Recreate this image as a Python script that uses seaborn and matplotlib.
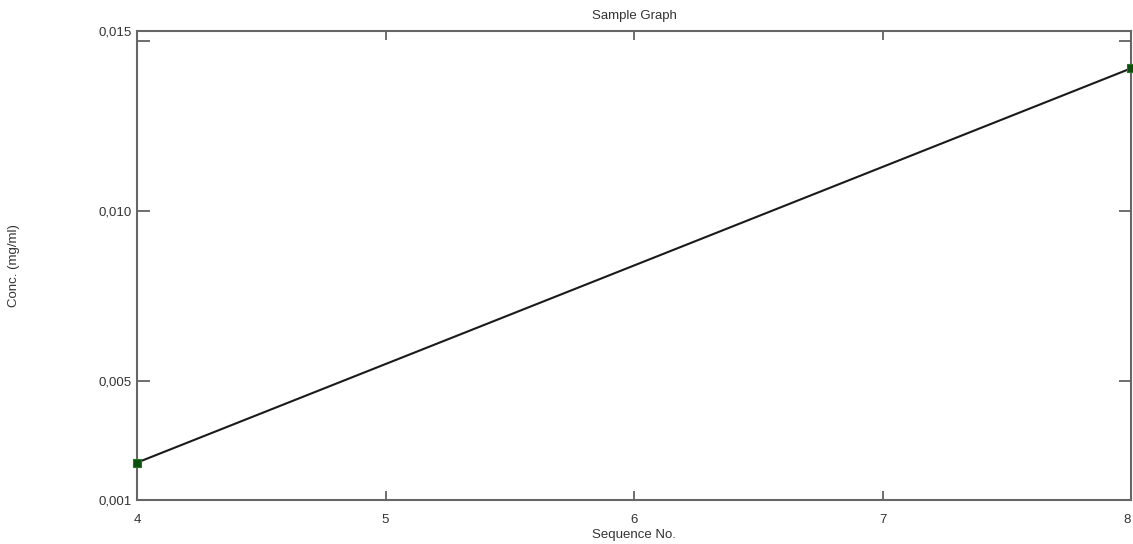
import matplotlib
matplotlib.use("Agg")
import matplotlib.pyplot as plt
import seaborn as sns
import pandas as pd

# Data
seq_no = [4, 8]
conc = [0.0026, 0.0142]

# Axis range and labels as shown
x_ticks = [4, 5, 6, 7, 8]
y_limits = [0.0015, 0.0153]
y_tick_values = [0.0015, 0.005, 0.010, 0.0153]
y_tick_labels = ["0,001", "0,005", "0,010", "0,015"]
y_minor_ticks = [0.015]

title = "Sample Graph"
x_label = "Sequence No."
y_label = "Conc. (mg/ml)"

df = pd.DataFrame({"seq": seq_no, "conc": conc})

sns.set_theme(style="white")
plt.rcParams["font.family"] = ["Liberation Sans", "DejaVu Sans"]

fig = plt.figure(figsize=(11.33, 5.44), dpi=100)
ax = fig.add_axes([137 / 1133, 1 - 500 / 544, (1131 - 137) / 1133, (500 - 31) / 544])

sns.lineplot(data=df, x="seq", y="conc", ax=ax, color="#1a1a1a", linewidth=1.5)
sns.scatterplot(data=df, x="seq", y="conc", ax=ax, marker="s", s=26,
                color="#0f4d0f", edgecolor="#1f7a1f", linewidth=0.8, zorder=5, clip_on=False)

ax.set_xlim(4, 8)
ax.set_ylim(*y_limits)
ax.set_xticks(x_ticks)
ax.set_xticklabels([str(v) for v in x_ticks])
ax.set_yticks(y_tick_values)
ax.set_yticklabels(y_tick_labels)
ax.set_yticks(y_minor_ticks, minor=True)

txt_color = "#333333"
ax.tick_params(axis="x", direction="in", top=True, bottom=True, length=6.5, width=1.2,
               color="#555555", labelsize=9.5, labelcolor=txt_color, pad=10)
ax.tick_params(axis="y", which="both", direction="in", left=True, right=True, length=9, width=1.2,
               color="#555555", labelsize=9.5, labelcolor=txt_color, pad=4)
ax.get_xticklabels()[-1].set_horizontalalignment("right")

for sp in ax.spines.values():
    sp.set_visible(True)
    sp.set_color("#666666")
    sp.set_linewidth(1.5)

ax.set_title(title, fontsize=9.5, color=txt_color, pad=9)
ax.set_xlabel(x_label, fontsize=9.5, color=txt_color, labelpad=2)
ax.set_ylabel(y_label, fontsize=9.5, color=txt_color)
ax.yaxis.set_label_coords((20 - 137) / 994, 0.5)
ax.grid(False)

fig.savefig("out.png", dpi=100)
